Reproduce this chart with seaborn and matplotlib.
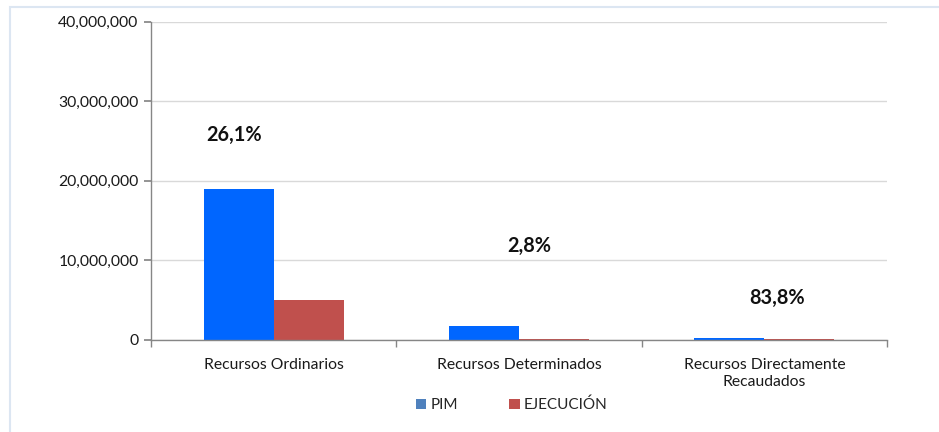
import matplotlib
matplotlib.use("Agg")
import matplotlib.pyplot as plt
from matplotlib.patches import Rectangle, Patch
from matplotlib.ticker import FuncFormatter, FixedLocator
import seaborn as sns
import pandas as pd

categories = ["Recursos Ordinarios", "Recursos Determinados", "Recursos Directamente\nRecaudados"]
pim = [18900000, 1700000, 130000]
ejecucion = [4930000, 48000, 109000]
pct_labels = ["26,1%", "2,8%", "83,8%"]
series = ["PIM", "EJECUCIÓN"]

df = pd.DataFrame({
    "cat": categories * 2,
    "serie": [series[0]] * 3 + [series[1]] * 3,
    "valor": pim + ejecucion,
})

sns.set_theme(style="white")
plt.rcParams["font.family"] = ["Lato", "DejaVu Sans"]

fig = plt.figure(figsize=(9.39, 4.32), dpi=100)
ax = fig.add_axes([0.1608, 0.2141, 0.7838, 0.7361])

sns.barplot(data=df, x="cat", y="valor", hue="serie", order=categories,
            hue_order=series, palette={"PIM": "#0066FF", "EJECUCIÓN": "#C0504D"},
            width=0.57, gap=0, saturation=1, ax=ax, legend=False, errorbar=None,
            linewidth=0)
for p in ax.patches:
    p.set_antialiased(False)

ax.set_ylim(0, 40000000)
ax.set_xlim(-0.5, 2.5)
ax.set_yticks([0, 10000000, 20000000, 30000000, 40000000])
ax.yaxis.set_major_formatter(FuncFormatter(lambda v, p: f"{int(v):,}"))
ax.grid(axis="y", color="#D9D9D9", linewidth=1)
ax.set_axisbelow(True)
ax.set_xlabel("")
ax.set_ylabel("")

for s in ["top", "right"]:
    ax.spines[s].set_visible(False)
for s in ["left", "bottom"]:
    ax.spines[s].set_color("#868686")
    ax.spines[s].set_linewidth(1)
    ax.spines[s].set_zorder(5)

ax.tick_params(axis="y", which="major", length=5, color="#868686", labelsize=11.3,
               labelcolor="#1a1a1a", pad=4, left=True)
ax.tick_params(axis="x", which="major", length=0, labelsize=11.3, labelcolor="#1a1a1a", pad=13)
ax.xaxis.set_minor_locator(FixedLocator([-0.5, 0.5, 1.5, 2.5]))
ax.tick_params(axis="x", which="minor", length=5, color="#868686", bottom=True)
ax.set_xticks(range(len(categories)))
ax.set_xticklabels(categories, linespacing=1.3)

label_pos = [(-0.16, 25700000), (1.04, 11750000), (2.05, 5200000)]
for (x, y), t in zip(label_pos, pct_labels):
    ax.text(x, y, t, ha="center", va="center", fontsize=14.3, fontweight="bold", color="#111111")

handles = [Patch(facecolor="#4F81BD", edgecolor="none", label="PIM"),
           Patch(facecolor="#C0504D", edgecolor="none", label="EJECUCIÓN")]
fig.legend(handles=handles, loc="center", bbox_to_anchor=(0.545, 0.062), ncol=2,
           frameon=False, fontsize=11, handlelength=0.7, handleheight=0.7,
           handletextpad=0.3, columnspacing=3.3)

fig.patches.append(Rectangle((0.011, -0.01), 1.0, 0.993, transform=fig.transFigure,
                             fill=False, edgecolor="#DCE6F2", linewidth=1.5))

fig.savefig("out.png", dpi=100, facecolor="white")
